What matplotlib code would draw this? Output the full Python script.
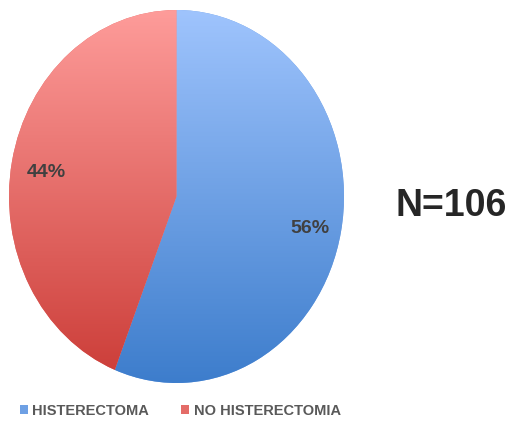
import matplotlib.pyplot as plt
import matplotlib.colors as mcolors
import numpy as np

plt.rcParams['font.family'] = ['Liberation Sans', 'DejaVu Sans']

categories = ['HISTERECTOMA', 'NO HISTERECTOMIA']
values = [56, 44]
n_total = 106

# gradient colours (top -> bottom) for each slice
grad_top = ['#9fc4fd', '#fe9c9a']
grad_bottom = ['#3d7dcc', '#cb3c37']

fig = plt.figure(figsize=(5.09, 4.21), dpi=100)
ax = fig.add_axes([9 / 509, 38 / 421, 335 / 509, 373 / 421])

mid_colors = [mcolors.to_hex(0.5 * np.array(mcolors.to_rgb(a)) + 0.5 * np.array(mcolors.to_rgb(b)))
              for a, b in zip(grad_top, grad_bottom)]

wedges, texts, autotexts = ax.pie(values, startangle=90, counterclock=False,
                                  colors=mid_colors, autopct='%1.0f%%', pctdistance=0.8,
                                  wedgeprops=dict(linewidth=0),
                                  textprops=dict(fontsize=14, fontweight='bold', color='#404040'))

# vertical gradient fill clipped to each wedge
t = np.linspace(0, 1, 256)[:, None]
for w, c0, c1 in zip(wedges, grad_top, grad_bottom):
    r0 = np.array(mcolors.to_rgb(c0))
    r1 = np.array(mcolors.to_rgb(c1))
    img = (1 - t)[:, :, None] * r0 + t[:, :, None] * r1
    img = np.repeat(img, 2, axis=1)
    im = ax.imshow(img, extent=(-1, 1, -1, 1), origin='upper', aspect='auto',
                   interpolation='bilinear', zorder=w.get_zorder())
    im.set_clip_path(w)

for at in autotexts:
    at.set_zorder(5)
    x, y = at.get_position()
    at.set_position((x + 0.01, y - 0.02))

ax.set_aspect('auto')
ax.set_xlim(-1, 1)
ax.set_ylim(-1, 1)
ax.axis('off')

fig.text(451 / 509, 1 - 206 / 421, f'N={n_total}', fontsize=27, fontweight='bold',
         color='#262626', ha='center', va='center')

leg = fig.legend(wedges, categories, loc='center left', bbox_to_anchor=(14 / 509, 1 - 411 / 421),
                 ncol=2, frameon=False, handlelength=0.55, handleheight=0.55,
                 handletextpad=0.3, columnspacing=2.2, borderaxespad=0,
                 prop=dict(size=10.5, weight='bold'))
for txt in leg.get_texts():
    txt.set_color('#595959')

fig.savefig('out.png', dpi=100)
